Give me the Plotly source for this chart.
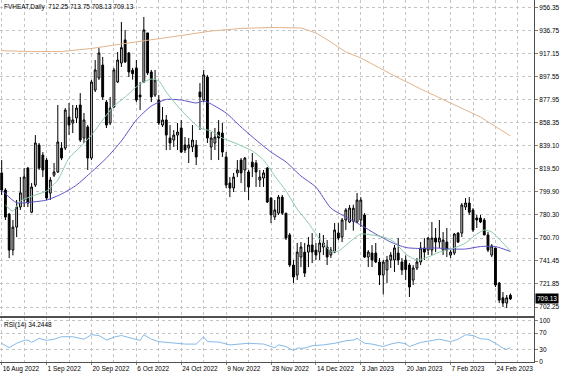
import plotly.graph_objects as go

# ---------------- data ----------------
bars = list(range(137))
opens = [815.9, 801.4, 781.0, 750.5, 770.0, 787.0, 793.0, 820.0, 782.6, 805.6,
         839.6, 831.0, 826.8, 798.8, 814.0, 816.7, 837.0, 837.0, 863.3, 858.2,
         862.5, 873.5, 845.5, 854.8, 828.5, 886.2, 896.4, 907.4, 876.0, 858.2,
         871.8, 893.0, 909.1, 928.6, 917.6, 903.0, 904.9, 881.9, 893.0, 934.6,
         901.5, 881.9, 877.7, 856.5, 860.8, 845.5, 843.8, 848.0, 854.0, 839.6,
         837.0, 837.9, 839.6, 884.5, 877.7, 897.2, 837.9, 841.3, 850.6, 849.7,
         829.4, 807.3, 803.1, 815.9, 826.8, 818.4, 816.7, 825.0, 824.3, 809.9,
         811.6, 820.0, 794.6, 778.6, 781.8, 795.4, 781.8, 763.3, 737.8, 729.4,
         744.6, 748.8, 748.8, 754.8, 750.5, 748.8, 753.1, 753.1, 746.3, 748.8,
         765.0, 761.6, 776.0, 774.3, 775.0, 774.3, 776.0, 780.3, 744.6, 748.0,
         748.0, 740.4, 729.4, 733.6, 742.1, 742.1, 748.0, 740.4, 742.0, 737.8,
         725.1, 735.3, 740.4, 752.3, 750.5, 750.5, 760.7, 757.3, 750.5, 757.3,
         746.3, 748.0, 764.9, 764.9, 787.0, 790.4, 784.5, 777.7, 777.7, 776.0,
         763.3, 746.3, 752.3, 722.6, 710.0, 705.6, 712.25]
highs = [826.8, 803.0, 782.0, 776.0, 793.0, 812.5, 820.0, 821.0, 807.3, 848.0,
         841.3, 833.6, 828.5, 812.4, 824.3, 873.5, 842.0, 871.0, 875.2, 873.5,
         873.5, 883.6, 866.7, 856.5, 894.7, 911.6, 921.8, 914.2, 877.7, 880.3,
         904.9, 918.4, 943.9, 937.1, 918.4, 905.0, 911.6, 893.0, 948.1, 934.6,
         903.2, 903.2, 882.0, 871.8, 865.0, 856.5, 852.3, 858.2, 860.8, 846.3,
         845.5, 856.5, 843.8, 892.1, 903.2, 898.9, 850.6, 854.0, 860.8, 858.2,
         833.6, 812.4, 815.9, 826.8, 828.5, 829.4, 818.4, 832.8, 826.8, 818.4,
         818.4, 820.9, 795.4, 792.9, 797.2, 797.2, 781.8, 765.0, 742.1, 756.5,
         757.3, 756.5, 761.6, 764.9, 756.5, 764.9, 763.3, 759.0, 753.1, 773.4,
         773.4, 777.7, 786.1, 788.7, 789.0, 798.9, 795.4, 781.8, 750.5, 754.8,
         756.5, 743.8, 742.1, 745.5, 748.8, 754.8, 760.7, 743.8, 746.0, 739.5,
         737.8, 743.8, 757.3, 760.7, 761.6, 774.3, 769.2, 776.0, 765.8, 769.2,
         750.5, 764.9, 765.8, 790.4, 794.6, 795.4, 786.1, 780.3, 780.3, 777.7,
         765.8, 755.6, 752.3, 723.4, 714.9, 712.4, 713.75]
lows = [797.2, 776.0, 743.7, 746.0, 761.5, 784.5, 787.0, 787.0, 781.8, 804.0,
        818.4, 812.4, 792.9, 792.9, 812.4, 815.9, 826.8, 835.3, 848.0, 849.7,
        858.2, 842.1, 841.3, 818.4, 826.8, 884.5, 894.7, 877.7, 854.0, 856.5,
        870.9, 892.1, 905.7, 909.1, 897.2, 895.0, 876.0, 869.2, 892.1, 898.9,
        876.0, 880.3, 856.5, 854.8, 835.3, 835.3, 837.9, 835.3, 832.8, 832.8,
        824.3, 833.6, 822.6, 852.3, 876.0, 841.3, 826.8, 835.3, 826.8, 829.4,
        803.1, 795.4, 799.7, 812.4, 807.3, 799.7, 792.9, 812.4, 804.0, 804.0,
        804.0, 790.4, 773.4, 776.0, 780.3, 780.3, 759.0, 736.1, 722.6, 725.1,
        736.1, 727.7, 736.1, 739.5, 742.1, 742.1, 746.3, 737.8, 743.8, 747.9,
        759.0, 757.3, 767.5, 773.4, 767.0, 773.4, 770.1, 743.8, 736.1, 736.1,
        739.5, 720.9, 713.0, 722.6, 735.3, 731.9, 737.8, 729.4, 725.0, 710.7,
        720.9, 733.6, 737.8, 742.1, 746.3, 746.3, 748.8, 752.3, 746.3, 744.6,
        743.8, 746.3, 756.5, 761.6, 784.5, 780.3, 765.8, 769.2, 773.4, 763.3,
        748.8, 744.6, 719.2, 705.6, 702.2, 701.4, 708.13]
closes = [801.4, 778.5, 750.5, 770.0, 787.0, 799.0, 812.5, 790.4, 804.0, 841.3,
          820.0, 818.4, 794.6, 809.9, 816.7, 842.1, 828.5, 869.2, 856.5, 860.8,
          870.9, 843.8, 860.8, 828.5, 893.0, 903.2, 917.6, 880.3, 856.5, 870.9,
          903.2, 911.6, 922.1, 910.0, 901.5, 900.0, 877.7, 880.3, 937.1, 900.6,
          880.3, 894.7, 858.2, 860.8, 848.0, 841.3, 848.0, 850.6, 833.6, 835.3,
          839.6, 843.8, 829.4, 880.3, 899.0, 845.5, 845.5, 846.3, 845.5, 833.6,
          805.6, 803.1, 812.4, 818.4, 815.9, 828.5, 804.0, 821.0, 816.7, 812.4,
          815.9, 791.2, 780.3, 784.5, 795.4, 781.8, 760.7, 737.8, 727.7, 748.8,
          753.1, 731.0, 754.8, 748.8, 746.3, 756.5, 756.5, 744.6, 750.5, 767.5,
          760.7, 776.0, 784.5, 786.1, 786.0, 792.9, 792.9, 744.6, 748.8, 742.1,
          740.4, 729.4, 740.4, 742.1, 746.3, 752.3, 742.1, 733.6, 734.0, 719.2,
          735.3, 740.4, 752.3, 748.8, 760.7, 760.7, 757.3, 760.7, 759.0, 750.5,
          748.8, 764.1, 757.3, 788.7, 790.4, 782.6, 767.5, 776.0, 774.3, 763.3,
          750.5, 754.0, 720.9, 708.1, 705.6, 710.0, 709.13]

ma_fast_bars = [1, 3, 5, 9, 12, 15, 18, 21, 24, 27, 30, 33, 37, 40, 42, 44, 47, 50, 53, 56,
                59, 63, 67, 70, 73, 76, 79, 82, 85, 88, 90, 93, 96, 99, 102, 105, 108, 111,
                114, 117, 121, 124, 127, 129, 131, 134, 136]
ma_fast_vals = [788.7, 783.6, 792.1, 797.2, 800.6, 809.9, 828.5, 837.9, 848.0, 860.8,
                872.6, 880.3, 891.3, 895.5, 893.8, 884.5, 872.6, 862.5, 854.0, 851.4,
                845.5, 840.4, 834.5, 826.8, 813.3, 800.6, 785.3, 773.4, 759.9, 749.6,
                749.6, 757.3, 764.1, 763.3, 761.6, 757.3, 747.1, 742.1, 744.6, 748.8,
                752.3, 756.5, 764.1, 767.5, 765.8, 756.5, 749.6]
ma_mid_bars = [0, 4, 8, 12, 16, 20, 24, 28, 32, 36, 40, 44, 48, 52, 54, 56, 60, 64, 68, 72,
               76, 80, 84, 88, 92, 96, 100, 104, 108, 112, 116, 120, 124, 128, 132, 136]
ma_mid_vals = [801.4, 790.6, 791.2, 792.9, 798.0, 805.6, 816.7, 828.5, 843.0, 860.8,
               872.6, 878.2, 877.7, 875.2, 876.9, 874.3, 866.7, 854.8, 843.8, 833.6,
               825.2, 813.3, 803.9, 786.1, 778.5, 771.7, 764.1, 757.3, 752.7, 751.8,
               752.3, 751.4, 751.4, 753.5, 753.5, 749.3]
ma_slow_bars = [0, 8, 16, 24, 32, 40, 48, 56, 64, 72, 80, 84, 88, 92, 96, 104, 112, 120, 128, 136]
ma_slow_vals = [919.5, 918.8, 918.8, 921.4, 925.2, 928.6, 932.4, 936.2, 938.4, 939.2,
                938.8, 934.6, 926.9, 918.4, 913.4, 899.8, 887.1, 875.2, 863.3, 847.2]

rsi_bars = [0, 2, 4, 6, 7, 8, 10, 12, 14, 16, 19, 22, 24, 26, 28, 30, 32, 35, 37, 38,
            40, 42, 46, 49, 52, 54, 55, 58, 61, 64, 66, 70, 73, 74, 76, 78, 79, 81, 83, 86,
            89, 92, 94, 95, 97, 99, 102, 104, 106, 108, 109, 112, 115, 117, 120, 122, 124,
            126, 128, 130, 132, 134, 135, 136]
rsi_vals = [45, 34, 45, 52, 53, 47, 57, 52, 55, 61, 61, 55, 66, 64, 53, 60, 64, 57, 52, 66,
            55, 49, 45, 43, 43, 61, 49, 48, 41, 43, 45, 43, 34, 41, 37, 27, 33, 33, 39, 41,
            45, 51, 53, 57, 45, 43, 37, 43, 47, 44, 37, 47, 51, 55, 49, 55, 66,
            64, 56, 55, 45, 33, 30, 34.2448]

date_tick_bars = [0, 12, 24, 36, 48, 60, 72, 84, 96, 108, 120, 132]
date_tick_labels = ["16 Aug 2022", "1 Sep 2022", "20 Sep 2022", "6 Oct 2022", "24 Oct 2022",
                    "9 Nov 2022", "28 Nov 2022", "14 Dec 2022", "3 Jan 2023", "20 Jan 2023",
                    "7 Feb 2023", "24 Feb 2023"]
grid_bars = list(range(0, 142, 6))
price_ticks = [956.35, 936.75, 917.15, 897.55, 877.95, 858.35, 839.10, 819.50,
               799.90, 780.30, 760.70, 741.45, 721.85, 702.25]
rsi_ticks = [0, 30, 70, 100]
last_price = 709.13

# ---------------- figure ----------------
GRID = "#c4c4c4"
AX = "#505050"
fig = go.Figure()
fig.add_trace(go.Scatter(x=ma_slow_bars, y=ma_slow_vals, mode="lines",
                         line=dict(color="#e2b48c", width=1), xaxis="x", yaxis="y"))
fig.add_trace(go.Scatter(x=ma_mid_bars, y=ma_mid_vals, mode="lines",
                         line=dict(color="#5a50c8", width=1, shape="spline", smoothing=0.6),
                         xaxis="x", yaxis="y"))
fig.add_trace(go.Scatter(x=ma_fast_bars, y=ma_fast_vals, mode="lines",
                         line=dict(color="#8ccaa8", width=1, shape="spline", smoothing=0.6),
                         xaxis="x", yaxis="y"))
fig.add_trace(go.Candlestick(
    x=bars, open=opens, high=highs, low=lows, close=closes,
    increasing=dict(line=dict(color="#000000", width=1), fillcolor="#d8d8d8"),
    decreasing=dict(line=dict(color="#000000", width=1), fillcolor="#000000"),
    whiskerwidth=0, xaxis="x", yaxis="y"))
fig.add_trace(go.Scatter(x=rsi_bars, y=rsi_vals, mode="lines",
                         line=dict(color="#86b9e6", width=1), xaxis="x2", yaxis="y2"))

xr = [-0.45, 142.3]
common_x = dict(range=xr, zeroline=False, fixedrange=True, rangeslider=dict(visible=False),
                showgrid=True, gridcolor=GRID, griddash="dot", gridwidth=1,
                showline=True, linecolor=AX, linewidth=1,
                minor=dict(tickmode="array", tickvals=grid_bars, showgrid=True,
                           gridcolor=GRID, griddash="dot", gridwidth=1, ticks=""))

fig.update_layout(
    width=564, height=376,
    margin=dict(l=0, r=30, t=0, b=14),
    paper_bgcolor="white", plot_bgcolor="white",
    showlegend=False, hovermode=False,
    font=dict(family="Liberation Sans, Arial, sans-serif", size=6.5, color="#000000"),
    xaxis=dict(common_x, anchor="y", tickvals=date_tick_bars, showticklabels=False, ticks=""),
    yaxis=dict(domain=[0.127, 1], range=[694.6, 962.5], side="right", anchor="x",
               tickvals=price_ticks, ticktext=[f"{v:.2f}" for v in price_ticks],
               ticks="outside", ticklen=3, tickcolor="#808080",
               showgrid=True, gridcolor=GRID, griddash="dot", gridwidth=1,
               showline=True, linecolor=AX, linewidth=1, zeroline=False, fixedrange=True),
    xaxis2=dict(common_x, anchor="y2", tickvals=date_tick_bars, ticktext=date_tick_labels,
                ticks="outside", ticklen=2, tickcolor="#808080", tickangle=0,
                ticklabelposition="outside right", mirror=True),
    yaxis2=dict(domain=[0, 0.1215], range=[-1, 107], side="right", anchor="x2",
                tickvals=rsi_ticks, ticktext=[str(v) for v in rsi_ticks],
                ticks="outside", ticklen=3, tickcolor="#808080",
                showgrid=True, gridcolor=GRID, griddash="dot", gridwidth=1,
                showline=True, linecolor=AX, linewidth=1, mirror=True,
                zeroline=False, fixedrange=True),
)

fig.add_annotation(xref="paper", yref="paper", x=0.004, y=1, xanchor="left", yanchor="top",
                   yshift=-1, showarrow=False,
                   text="FVHEAT,Daily  712.25 713.75 708.13 709.13")
fig.add_annotation(xref="paper", yref="paper", x=0.004, y=0.1215, xanchor="left", yanchor="top",
                   yshift=-1, showarrow=False, text=f"RSI(14) {rsi_vals[-1]:.4f}")
fig.add_annotation(xref="paper", yref="y", x=1, y=last_price, xanchor="left", yanchor="middle",
                   xshift=1, showarrow=False, text=f"{last_price:.2f}",
                   bgcolor="#000000", font=dict(color="#ffffff", size=6.5), borderpad=1)

fig.write_html("out.html", config={"displayModeBar": False},
               post_script="document.body.style.margin='0';document.body.style.overflow='hidden';")
